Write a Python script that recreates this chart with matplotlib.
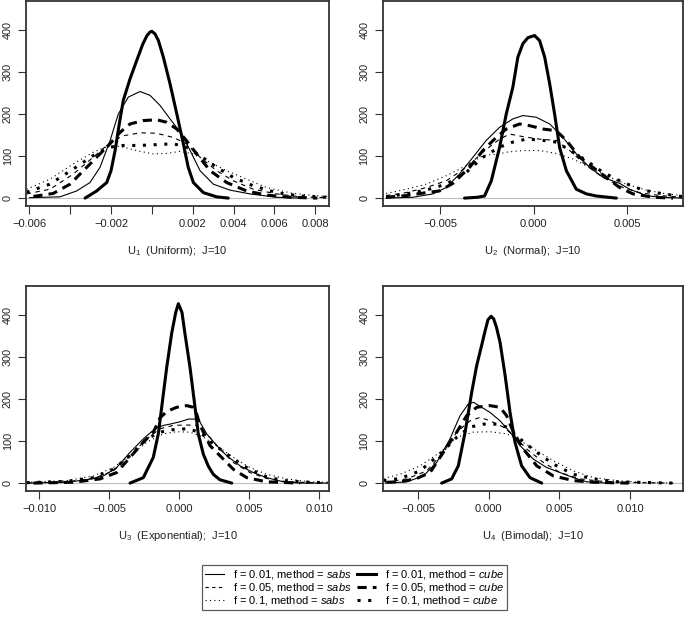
import matplotlib
matplotlib.use("Agg")
import matplotlib.pyplot as plt
from matplotlib.lines import Line2D

plt.rcParams['font.family'] = ['Liberation Sans', 'DejaVu Sans']
plt.rcParams['mathtext.fontset'] = 'custom'
plt.rcParams['mathtext.rm'] = 'Liberation Sans'
plt.rcParams['mathtext.it'] = 'Liberation Sans:italic'
plt.rcParams['axes.unicode_minus'] = True

# ---------------- data ----------------
# Panel 1: U1 (Uniform)
u1_sabs001_x = [-0.0060, -0.0045, -0.00368, -0.00303, -0.00254, -0.00205, -0.00164, -0.00115, -0.00058, -0.00009, 0.00040, 0.00089, 0.00146, 0.00187, 0.00236, 0.00301, 0.00382, 0.0048, 0.0061, 0.0073]
u1_sabs001_y = [1, 3, 17, 37, 73, 136, 200, 240, 253, 244, 220, 188, 152, 113, 65, 33, 19, 10, 2, 0]
u1_sabs005_x = [-0.00613, -0.00499, -0.00385, -0.00287, -0.00205, -0.0014, -0.00058, 0.00024, 0.00105, 0.0017, 0.00236, 0.00317, 0.00399, 0.00497, 0.00611, 0.00725, 0.00856]
u1_sabs005_y = [10, 21, 57, 97, 132, 148, 155, 154, 144, 129, 97, 65, 41, 21, 10, 3, 1]
u1_sabs01_x = [-0.00613, -0.00499, -0.00385, -0.00287, -0.00205, -0.0014, -0.00058, 0.00007, 0.00073, 0.00138, 0.00203, 0.00268, 0.00366, 0.00464, 0.00562, 0.00692, 0.00823, 0.0086]
u1_sabs01_y = [21, 45, 81, 109, 125, 121, 111, 105, 106, 111, 105, 89, 65, 45, 25, 11, 5, 4]
u1_cube001_x = [-0.00327, -0.0027, -0.00221, -0.0020, -0.0018, -0.0016, -0.0014, -0.00107, -0.00074, -0.00045, -0.00025, -0.0001, 0.0, 0.00015, 0.00032, 0.00056, 0.00089, 0.00122, 0.00154, 0.00178, 0.00203, 0.00252, 0.00317, 0.00374]
u1_cube001_y = [0, 17, 37, 65, 113, 175, 232, 283, 327, 365, 385, 394, 396, 390, 374, 335, 271, 200, 129, 73, 37, 13, 3, 0]
u1_cube005_x = [-0.0058, -0.00483, -0.00401, -0.00319, -0.00254, -0.00205, -0.00156, -0.00107, -0.00044, 0.00024, 0.00073, 0.00122, 0.0017, 0.00219, 0.00285, 0.00366, 0.00464, 0.00562, 0.00676, 0.0081]
u1_cube005_y = [4, 11, 33, 73, 105, 129, 156, 176, 184, 186, 180, 164, 136, 105, 65, 37, 17, 7, 2, 0]
u1_cube01_x = [-0.00613, -0.005, -0.00385, -0.00287, -0.00205, -0.0014, -0.00058, 0.00024, 0.00105, 0.0017, 0.00236, 0.00317, 0.00399, 0.00497, 0.00611, 0.00725, 0.0086]
u1_cube01_y = [14, 33, 69, 101, 121, 125, 125, 127, 129, 121, 101, 73, 49, 29, 13, 5, 2]

# Panel 2: U2 (Normal)
u2_sabs001_x = [-0.00788, -0.00645, -0.00538, -0.00467, -0.00396, -0.00324, -0.00253, -0.00182, -0.00111, -0.00057, 0.00014, 0.00086, 0.00157, 0.00228, 0.00299, 0.00371, 0.0046, 0.00513, 0.00602, 0.00674, 0.0080]
u2_sabs001_y = [0, 2, 10, 25, 57, 97, 137, 168, 188, 196, 192, 176, 144, 105, 73, 49, 35, 21, 6, 2, 0]
u2_sabs005_x = [-0.00788, -0.00681, -0.00574, -0.00467, -0.0036, -0.00271, -0.00182, -0.00128, -0.00057, 0.00032, 0.00121, 0.00193, 0.00282, 0.00371, 0.00478, 0.00567, 0.00674, 0.0080]
u2_sabs005_y = [6, 13, 25, 41, 73, 109, 140, 152, 146, 140, 137, 113, 77, 49, 25, 13, 6, 2]
u2_sabs01_x = [-0.00788, -0.00681, -0.00574, -0.00467, -0.0036, -0.00271, -0.00182, -0.00146, -0.00057, 0.00032, 0.00121, 0.0021, 0.00299, 0.00389, 0.00496, 0.00602, 0.00709, 0.0080]
u2_sabs01_y = [11, 21, 33, 53, 77, 101, 105, 109, 113, 113, 106, 93, 73, 53, 33, 19, 10, 6]
u2_cube001_x = [-0.00369, -0.00300, -0.00262, -0.00226, -0.00182, -0.00146, -0.00111, -0.00084, -0.00057, -0.0003, 0.00005, 0.00032, 0.00059, 0.00086, 0.00112, 0.00139, 0.00175, 0.00228, 0.00282, 0.00335, 0.00442]
u2_cube001_y = [0, 2, 5, 41, 120, 200, 263, 335, 367, 381, 386, 374, 335, 271, 200, 120, 65, 21, 10, 5, 0]
u2_cube005_x = [-0.00788, -0.00681, -0.00574, -0.00503, -0.00431, -0.00342, -0.00271, -0.0020, -0.00146, -0.00075, -0.00021, 0.0005, 0.00121, 0.00175, 0.00246, 0.00317, 0.00389, 0.0046, 0.00531, 0.00638, 0.00745]
u2_cube005_y = [2, 6, 13, 17, 35, 73, 113, 144, 164, 176, 172, 164, 160, 137, 97, 73, 49, 25, 10, 2, 0]
u2_cube01_x = [-0.00788, -0.00681, -0.00574, -0.00467, -0.0036, -0.00271, -0.00182, -0.00111, -0.00039, 0.00032, 0.00121, 0.0021, 0.00282, 0.00371, 0.00478, 0.00585, 0.00692, 0.0080]
u2_cube01_y = [3, 10, 19, 33, 61, 97, 121, 133, 140, 138, 133, 109, 89, 61, 37, 19, 10, 3]

# Panel 3: U3 (Exponential)
u3_sabs001_x = [-0.01088, -0.00803, -0.0066, -0.00541, -0.00446, -0.00351, -0.00256, -0.00173, -0.00113, -0.00066, 0.00010, 0.00065, 0.00136, 0.00196, 0.00268, 0.00339, 0.00434, 0.00529, 0.00624, 0.00743, 0.00862, 0.0106]
u3_sabs001_y = [0, 2, 8, 17, 37, 73, 105, 129, 137, 140, 146, 152, 152, 117, 89, 65, 41, 25, 13, 3, 0, 0]
u3_sabs005_x = [-0.01088, -0.00803, -0.00612, -0.0047, -0.00351, -0.00232, -0.00137, -0.00042, 0.00054, 0.00125, 0.00196, 0.00291, 0.00386, 0.00505, 0.00624, 0.00767, 0.0106]
u3_sabs005_y = [0, 3, 11, 29, 65, 105, 129, 137, 138, 137, 117, 81, 49, 25, 11, 3, 0]
u3_sabs01_x = [-0.01088, -0.00803, -0.00612, -0.0047, -0.00351, -0.00232, -0.00113, -0.00018, 0.00077, 0.00172, 0.00268, 0.00386, 0.00505, 0.00624, 0.00767, 0.00933, 0.0106]
u3_sabs01_y = [2, 6, 17, 37, 65, 97, 117, 122, 121, 109, 89, 61, 37, 21, 10, 3, 2]
u3_cube001_x = [-0.00351, -0.00256, -0.00185, -0.00149, -0.00125, -0.00089, -0.00054, -0.00025, -0.00006, 0.0002, 0.00041, 0.00077, 0.00113, 0.00136, 0.00172, 0.00208, 0.00243, 0.0029, 0.00375]
u3_cube001_y = [0, 13, 61, 117, 180, 275, 355, 405, 426, 405, 355, 275, 180, 117, 69, 40, 21, 8, 0]
u3_cube005_x = [-0.0104, -0.00755, -0.00565, -0.00446, -0.00351, -0.00256, -0.00184, -0.00137, -0.00089, -0.00018, 0.00054, 0.00101, 0.00125, 0.00149, 0.0022, 0.00291, 0.00386, 0.00482, 0.00624, 0.00862]
u3_cube005_y = [0, 2, 10, 25, 61, 97, 121, 155, 170, 180, 184, 180, 164, 137, 89, 65, 33, 13, 3, 0]
u3_cube01_x = [-0.01088, -0.00803, -0.00612, -0.0047, -0.00351, -0.00232, -0.00137, -0.00042, 0.00054, 0.00149, 0.00244, 0.00339, 0.00458, 0.0060, 0.00743, 0.00933, 0.0106]
u3_cube01_y = [1, 4, 13, 33, 65, 105, 121, 127, 129, 121, 93, 69, 41, 17, 6, 2, 1]

# Panel 4: U4 (Bimodal)
u4_sabs001_x = [-0.00733, -0.0058, -0.00462, -0.00368, -0.00274, -0.00203, -0.00144, -0.00108, -0.0005, 0.00009, 0.0008, 0.00151, 0.00222, 0.00316, 0.0041, 0.00505, 0.00599, 0.00693, 0.00835]
u4_sabs001_y = [0, 3, 17, 49, 105, 160, 188, 192, 180, 168, 148, 121, 89, 57, 37, 25, 13, 3, 0]
u4_sabs005_x = [-0.00733, -0.0058, -0.00439, -0.00321, -0.00226, -0.00132, -0.00061, 0.00009, 0.00104, 0.00175, 0.00269, 0.00387, 0.00505, 0.00646, 0.00835, 0.0107, 0.0131]
u4_sabs005_y = [2, 10, 29, 73, 121, 148, 156, 148, 133, 113, 81, 49, 25, 10, 3, 1, 0]
u4_sabs01_x = [-0.00745, -0.00627, -0.00486, -0.00344, -0.00226, -0.00108, 0.00009, 0.00127, 0.00222, 0.0034, 0.00458, 0.00599, 0.00741, 0.00906, 0.01071, 0.0131]
u4_sabs01_y = [11, 21, 41, 73, 109, 121, 122, 117, 101, 77, 53, 29, 13, 6, 2, 0]
u4_cube001_x = [-0.00333, -0.00262, -0.00215, -0.00167, -0.0012, -0.00085, -0.0005, -0.00025, -0.00005, 0.00017, 0.00035, 0.00055, 0.0008, 0.00116, 0.00151, 0.00186, 0.00233, 0.00292, 0.00375]
u4_cube001_y = [0, 10, 41, 121, 216, 279, 327, 362, 388, 396, 390, 370, 335, 256, 168, 97, 41, 13, 0]
u4_cube005_x = [-0.0072, -0.00627, -0.00509, -0.00415, -0.00321, -0.00226, -0.00156, -0.00085, 0.00009, 0.0008, 0.00127, 0.00175, 0.00245, 0.0034, 0.00458, 0.00599, 0.00741, 0.0099]
u4_cube005_y = [2, 3, 11, 25, 73, 121, 160, 180, 184, 180, 160, 121, 81, 41, 17, 6, 2, 0]
u4_cube01_x = [-0.00745, -0.00627, -0.00486, -0.00344, -0.00226, -0.00132, -0.00038, 0.00057, 0.00127, 0.00222, 0.0034, 0.00458, 0.00599, 0.00741, 0.00906, 0.0131]
u4_cube01_y = [6, 11, 29, 69, 109, 133, 140, 140, 133, 105, 73, 45, 21, 10, 3, 0]

panel_labels = [r"U$_1$  (Uniform);  J=10", r"U$_2$  (Normal);  J=10",
                r"U$_3$  (Exponential);  J=10", r"U$_4$  (Bimodal);  J=10"]
x_ticks = [[-0.006, -0.004, -0.002, 0.0, 0.002, 0.004, 0.006, 0.008],
           [-0.005, 0.0, 0.005],
           [-0.010, -0.005, 0.0, 0.005, 0.010],
           [-0.005, 0.0, 0.005, 0.010]]
x_ticklabels = [["\u22120.006", "", "\u22120.002", "", "0.002", "0.004", "0.006", "0.008"],
                ["\u22120.005", "0.000", "0.005"],
                ["\u22120.010", "\u22120.005", "0.000", "0.005", "0.010"],
                ["\u22120.005", "0.000", "0.005", "0.010"]]
y_ticks = [0, 100, 200, 300, 400]
legend_labels = [r"f = 0.01, method = $\it{sabs}$", r"f = 0.05, method = $\it{sabs}$",
                 r"f = 0.1, method = $\it{sabs}$", r"f = 0.01, method = $\it{cube}$",
                 r"f = 0.05, method = $\it{cube}$", r"f = 0.1, method = $\it{cube}$"]

panels = [
    [(u1_sabs001_x, u1_sabs001_y), (u1_sabs005_x, u1_sabs005_y), (u1_sabs01_x, u1_sabs01_y),
     (u1_cube001_x, u1_cube001_y), (u1_cube005_x, u1_cube005_y), (u1_cube01_x, u1_cube01_y)],
    [(u2_sabs001_x, u2_sabs001_y), (u2_sabs005_x, u2_sabs005_y), (u2_sabs01_x, u2_sabs01_y),
     (u2_cube001_x, u2_cube001_y), (u2_cube005_x, u2_cube005_y), (u2_cube01_x, u2_cube01_y)],
    [(u3_sabs001_x, u3_sabs001_y), (u3_sabs005_x, u3_sabs005_y), (u3_sabs01_x, u3_sabs01_y),
     (u3_cube001_x, u3_cube001_y), (u3_cube005_x, u3_cube005_y), (u3_cube01_x, u3_cube01_y)],
    [(u4_sabs001_x, u4_sabs001_y), (u4_sabs005_x, u4_sabs005_y), (u4_sabs01_x, u4_sabs01_y),
     (u4_cube001_x, u4_cube001_y), (u4_cube005_x, u4_cube005_y), (u4_cube01_x, u4_cube01_y)],
]

# ---------------- styles ----------------
thin = 0.8
thick = 2.2
styles = [
    dict(lw=thin, ls='-'),
    dict(lw=thin, ls=(0, (4, 4))),
    dict(lw=thin, ls=(0, (1, 3))),
    dict(lw=thick, ls='-'),
    dict(lw=thick, ls=(0, (3, 2))),
    dict(lw=thick, ls=(0, (1, 2.5))),
]
legend_styles = [
    dict(lw=thin, ls='-'),
    dict(lw=thin, ls=(0, (3, 3))),
    dict(lw=thin, ls=(0, (1, 3))),
    dict(lw=thick, ls='-'),
    dict(lw=thick, ls=(0, (3, 2))),
    dict(lw=thick, ls=(0, (1, 2.5))),
]

xlims = [(-0.00616, 0.00867), (-0.00806, 0.00798), (-0.01093, 0.01069), (-0.0075, 0.01375)]
positions = [
    [0.038, 0.673, 0.4423, 0.3254],
    [0.5587, 0.673, 0.4384, 0.3254],
    [0.038, 0.2199, 0.4423, 0.3254],
    [0.5587, 0.2199, 0.4384, 0.3254],
]

fig = plt.figure(figsize=(6.85, 6.29), dpi=100)
for i in range(4):
    ax = fig.add_axes(positions[i])
    ax.axhline(0, color='#bebebe', lw=0.8, zorder=1)
    for (xs, ys), st in zip(panels[i], styles):
        ax.plot(xs, ys, color='black', lw=st['lw'], ls=st['ls'],
                solid_joinstyle='round', solid_capstyle='round',
                dash_capstyle='butt', zorder=2)
    ax.set_xlim(*xlims[i])
    ax.set_ylim(-18, 468)
    ax.set_xticks(x_ticks[i])
    ax.set_xticklabels(x_ticklabels[i], fontsize=8)
    ax.set_yticks(y_ticks)
    ax.set_yticklabels([str(v) for v in y_ticks], fontsize=7.8, rotation=90, va='center')
    ax.tick_params(axis='both', direction='out', length=5.5, width=0.8, color='#333333',
                   labelcolor='#222222')
    ax.tick_params(axis='x', pad=4)
    ax.tick_params(axis='y', pad=4)
    for sp in ax.spines.values():
        sp.set_linewidth(1.3)
        sp.set_color('#333333')
    ax.set_xlabel(panel_labels[i], fontsize=8, labelpad=11, color='#222222')

handles = [Line2D([], [], color='black', lw=st['lw'], ls=st['ls'], dash_capstyle='butt')
           for st in legend_styles]
leg = fig.legend(handles, legend_labels, ncol=2, loc='center',
                 bbox_to_anchor=(0.5175, 0.066), fontsize=8, frameon=True,
                 fancybox=False, edgecolor='#333333', borderpad=0.3,
                 labelspacing=0.0, handlelength=1.7, handletextpad=0.8,
                 columnspacing=0.45)
leg.get_frame().set_linewidth(0.9)

fig.savefig('out.png', dpi=100)
